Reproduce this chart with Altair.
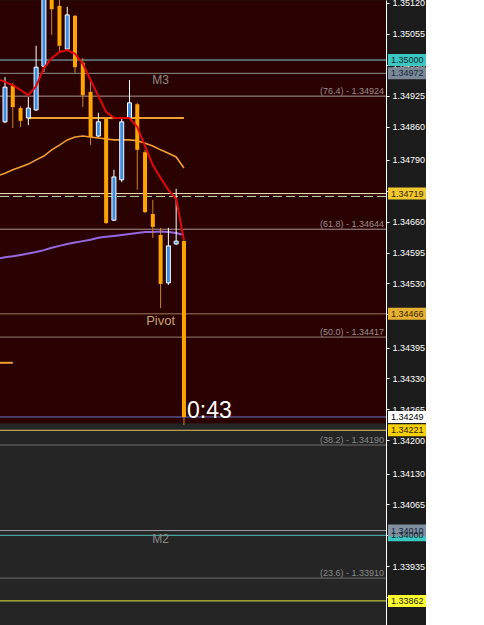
import altair as alt
import pandas as pd

# ---------------- data ----------------
idx = list(range(24))
opens = [1.34870, 1.34947, 1.34899, 1.34878, 1.34895, 1.34987, 1.35137, 1.35114,
         1.35023, 1.35093, 1.34994, 1.34933, 1.34840, 1.34878, 1.34663, 1.34748,
         1.34878, 1.34907, 1.34806, 1.34676, 1.34632, 1.34531, 1.34613, 1.34619]
closes = [1.34943, 1.34901, 1.34872, 1.34899, 1.34985, 1.35158, 1.35107, 1.35030,
          1.35095, 1.34985, 1.34926, 1.34838, 1.34870, 1.34657, 1.34754, 1.34870,
          1.34910, 1.34811, 1.34680, 1.34649, 1.34529, 1.34609, 1.34619, 1.34249]
highs = [1.34964, 1.34952, 1.34903, 1.34922, 1.35030, 1.35179, 1.35168, 1.35133,
         1.35112, 1.35095, 1.35004, 1.34954, 1.34889, 1.34880, 1.34769, 1.34880,
         1.34958, 1.34910, 1.34811, 1.34706, 1.34647, 1.34647, 1.34729, 1.34621]
lows = [1.34867, 1.34857, 1.34859, 1.34863, 1.34893, 1.34975, 1.35053, 1.35017,
        1.35021, 1.34973, 1.34901, 1.34821, 1.34838, 1.34655, 1.34661, 1.34743,
        1.34876, 1.34727, 1.34678, 1.34626, 1.34478, 1.34527, 1.34611, 1.34232]

ma_x = [-0.64] + idx
red_ma = [1.34958, 1.34954, 1.34947, 1.34937, 1.34926, 1.34945, 1.34983, 1.35004,
          1.35017, 1.35021, 1.35013, 1.34992, 1.34958, 1.34924, 1.34891, 1.34878,
          1.34878, 1.34878, 1.34859, 1.34819, 1.34779, 1.34752, 1.34727, 1.34708, 1.34621]
orange_ma = [1.34758, 1.34762, 1.34769, 1.34775, 1.34781, 1.34790, 1.34798, 1.34811,
             1.34821, 1.34832, 1.34838, 1.34840, 1.34838, 1.34836, 1.34834, 1.34832,
             1.34832, 1.34832, 1.34830, 1.34825, 1.34819, 1.34811, 1.34804, 1.34796, 1.34773]
purple_ma = [1.34583, 1.34585, 1.34587, 1.34590, 1.34593, 1.34596, 1.34600, 1.34605,
             1.34609, 1.34613, 1.34616, 1.34619, 1.34622, 1.34626, 1.34628, 1.34630,
             1.34632, 1.34634, 1.34636, 1.34638, 1.34638, 1.34639, 1.34638, 1.34636, 1.34632]

# horizontal levels
level_prices = [1.35000, 1.34972, 1.34924, 1.34719, 1.34644, 1.34466, 1.34417,
                1.34249, 1.34221, 1.34190, 1.34010, 1.34000, 1.33910, 1.33862]
level_colors = ["#7ec8d0", "#8c8c8c", "#a89898", "#ffe8c0", "#a89494", "#a07a5e", "#948070",
                "#6a78c8", "#e0c860", "#6e6e6e", "#a0a0a0", "#4cc0b8", "#6e6e6e", "#e8e840"]
dash_price = [1.34713]

fib_tags = ["(76.4)", "(61.8)", "(50.0)", "(38.2)", "(23.6)"]
fib_prices = [1.34924, 1.34644, 1.34417, 1.34190, 1.33910]
fib_colors = ["#9c8c8c", "#9c8c8c", "#9c8c8c", "#8a8a8a", "#8a8a8a"]

# short orange segments
seg_x = [3, -0.64]
seg_x2 = [23, 1]
seg_price = [1.34878, 1.34363]

# price tag boxes on the axis
tag_prices = [1.35000, 1.34972, 1.34719, 1.34466, 1.34249, 1.34221, 1.34000, 1.34010, 1.33862]
tag_bg = ["#3cc8c2", "#7a8898", "#f0c830", "#e6b030", "#ffffff", "#f5d000", "#3cc8c2", "#8090a0", "#ffff30"]
tag_fg = ["#0c2a2a", "#18283a", "#3a2400", "#3a2400", "#000000", "#3a2400", "#0c2a2a", "#18283a", "#202000"]

axis_ticks = [1.35120, 1.35055, 1.34990, 1.34925, 1.34860, 1.34790, 1.34725, 1.34660,
              1.34595, 1.34530, 1.34465, 1.34395, 1.34330, 1.34265, 1.34200, 1.34130,
              1.34065, 1.34000, 1.33935, 1.33870]

zone_top = [1.35126, 1.34235]
zone_bottom = [1.34235, 1.33811]
zone_colors = ["#2a0202", "#252525"]

notes = ["M3", "M2", "Pivot"]
note_x = [20, 20, 20]
note_price = [1.34958, 1.33992, 1.34451]
note_colors = ["#8a8a8a", "#8a8a8a", "#c8a070"]
note_sizes = [12, 12, 13]

timer_text = ["0:43"]
timer_x = [23]
timer_price = [1.34247]

# ---------------- scales ----------------
X_DOM = [-0.643, 48.97]
Y_DOM = [1.338113, 1.351263]
xs = alt.Scale(domain=X_DOM, nice=False, zero=False, padding=0)
ys = alt.Scale(domain=Y_DOM, nice=False, zero=False, padding=0)
yaxis = alt.Axis(orient="right", values=axis_ticks, format=".5f", title=None, grid=False,
                 labelColor="#ffffff", labelFont="Liberation Sans", labelFontSize=9,
                 labelPadding=3, tickColor="#ffffff", tickSize=3, domainColor="#ffffff",
                 labelFlush=False, labelOverlap=False, labelBound=False, zindex=0)
FONT = "Liberation Sans"

def X(f):
    return alt.X(f, type="quantitative", scale=xs, axis=None)

def Y(f):
    return alt.Y(f, type="quantitative", scale=ys, axis=yaxis)

# ---------------- frames ----------------
candles = pd.DataFrame({"i": idx, "open": opens, "close": closes, "high": highs, "low": lows})
candles["up"] = candles["close"] >= candles["open"]
up = candles[candles["up"]]
dn = candles[~candles["up"]]

zones = pd.DataFrame({"top": zone_top, "bottom": zone_bottom, "c": zone_colors})
levels = pd.DataFrame({"price": level_prices, "c": level_colors})
dash_df = pd.DataFrame({"price": dash_price})
fib_df = pd.DataFrame({"label": [f"{t} -  {p:.5f}" for t, p in zip(fib_tags, fib_prices)],
                       "price": fib_prices, "c": fib_colors})
seg_df = pd.DataFrame({"x": seg_x, "x2": seg_x2, "price": seg_price})
ma_df = pd.DataFrame({"x": ma_x, "red": red_ma, "orange": orange_ma, "purple": purple_ma})
tags = pd.DataFrame({"price": tag_prices, "bg": tag_bg, "fg": tag_fg,
                     "label": [f"{p:.5f}" for p in tag_prices]})
notes_df = pd.DataFrame({"t": notes, "x": note_x, "price": note_price, "c": note_colors, "s": note_sizes})
timer_df = pd.DataFrame({"t": timer_text, "x": timer_x, "price": timer_price})
white_df = pd.DataFrame({"k": [0]})

# ---------------- layers ----------------
zone_layer = alt.Chart(zones).mark_rect().encode(
    x=alt.value(0), x2=alt.value(386), y=Y("top"), y2="bottom", color=alt.Color("c:N", scale=None))

level_layer = alt.Chart(levels).mark_rule(strokeWidth=1).encode(
    y=Y("price"), color=alt.Color("c:N", scale=None))

dash_layer = alt.Chart(dash_df).mark_rule(strokeWidth=1, color="#c0dcb0", strokeDash=[9, 4]).encode(
    y=Y("price"))

seg_layer = alt.Chart(seg_df).mark_rule(strokeWidth=2, color="#f0a030").encode(
    x=X("x"), x2="x2", y=Y("price"))

fib_layer = alt.Chart(fib_df).mark_text(align="right", baseline="alphabetic", dy=-2,
                                        font=FONT, fontSize=9).encode(
    x=alt.value(384), y=Y("price"), text="label:N", color=alt.Color("c:N", scale=None))

purple_layer = alt.Chart(ma_df).mark_line(color="#9468e0", strokeWidth=2).encode(
    x=X("x"), y=Y("purple"))
orange_layer = alt.Chart(ma_df).mark_line(color="#f0a030", strokeWidth=1.6).encode(
    x=X("x"), y=Y("orange"))

wick_dn = alt.Chart(dn).mark_rule(color="#c8862a", strokeWidth=1).encode(
    x=X("i"), y=Y("low"), y2="high")
wick_up = alt.Chart(up).mark_rule(color="#ffffff", strokeWidth=1).encode(
    x=X("i"), y=Y("low"), y2="high")
body_dn = alt.Chart(dn).mark_bar(size=4, color="#ffa500").encode(
    x=X("i"), y=Y("open"), y2="close")
body_up = alt.Chart(up).mark_bar(size=4, color="#3a8de0", stroke="#ffffff", strokeWidth=1).encode(
    x=X("i"), y=Y("open"), y2="close")

red_layer = alt.Chart(ma_df).mark_line(color="#e00808", strokeWidth=2).encode(
    x=X("x"), y=Y("red"))

notes_layer = alt.Chart(notes_df).mark_text(align="center", baseline="middle", font=FONT).encode(
    x=X("x"), y=Y("price"), text="t:N", color=alt.Color("c:N", scale=None),
    size=alt.Size("s:Q", scale=None))

timer_layer = alt.Chart(timer_df).mark_text(align="left", baseline="alphabetic", dx=3,
                                            font=FONT, fontSize=23, color="#ffffff").encode(
    x=X("x"), y=Y("price"), text="t:N")

tag_box = alt.Chart(tags).mark_tick(orient="horizontal", thickness=12, size=38, opacity=1).encode(
    x=alt.value(407), y=Y("price"), color=alt.Color("bg:N", scale=None))
tag_text = alt.Chart(tags).mark_text(align="left", baseline="middle", font=FONT, fontSize=9).encode(
    x=alt.value(391), y=Y("price"), text="label:N", color=alt.Color("fg:N", scale=None))

white_panel = alt.Chart(white_df).mark_rect(color="#ffffff").encode(
    x=alt.value(426), x2=alt.value(484), y=alt.value(0), y2=alt.value(625))

chart = alt.layer(
    zone_layer, level_layer, dash_layer, fib_layer, purple_layer, orange_layer, seg_layer,
    wick_dn, wick_up, body_dn, body_up, red_layer, notes_layer, timer_layer,
    tag_box, tag_text, white_panel
).properties(
    width=386, height=625,
    autosize=alt.AutoSizeParams(type="none"),
    padding={"left": 0, "top": 0, "right": 98, "bottom": 0},
    background="#1c1c1c",
).configure_view(stroke=None)

chart.save("out.html", embed_options={"renderer": "svg", "actions": False})
